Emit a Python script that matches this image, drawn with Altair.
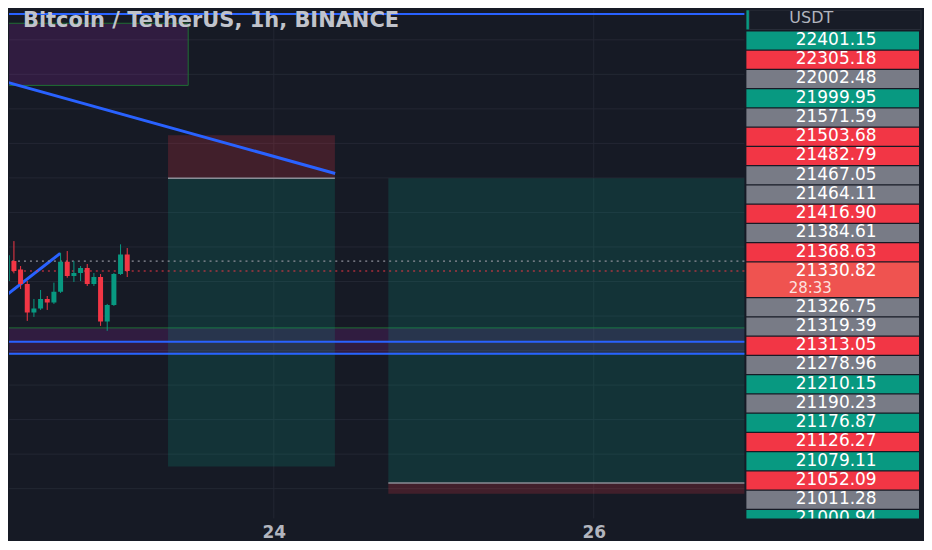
import altair as alt
import pandas as pd

# ---------------- data ----------------
# candles: hours since 22 Jan 00:00, 1h candles
candle_hours = [8, 9, 10, 11, 12, 13, 14, 15, 16, 17, 18, 19, 20, 21, 22, 23, 24, 25, 26]
opens = [21300.7, 21329.6, 21317.3, 21296.4, 21255.2, 21261.0, 21274.7, 21269.4, 21285.3, 21328.6,
         21307.9, 21312.3, 21319.5, 21296.4, 21306.5, 21242.2, 21266.0, 21310.8, 21339.0]
closes = [21337.9, 21315.2, 21296.4, 21255.2, 21261.0, 21274.7, 21269.4, 21285.3, 21328.6, 21307.9,
          21312.3, 21319.5, 21296.4, 21306.5, 21242.2, 21266.0, 21310.8, 21339.0, 21315.2]
highs = [21344.1, 21358.5, 21322.4, 21300.7, 21274.7, 21287.7, 21279.0, 21298.3, 21341.6, 21344.1,
         21329.6, 21322.4, 21325.3, 21312.3, 21310.8, 21267.5, 21312.3, 21353.8, 21348.4]
lows = [21296.4, 21311.8, 21289.2, 21242.9, 21248.7, 21258.8, 21258.8, 21267.5, 21283.4, 21305.5,
        21299.3, 21300.7, 21293.5, 21293.5, 21235.7, 21228.5, 21264.6, 21309.4, 21306.5]

# grid / axis
grid_prices = [21000, 21050, 21100, 21150, 21200, 21250, 21300, 21350, 21400, 21450,
               21500, 21550, 21600, 21650]
x_tick_hours = [48, 96]
x_tick_labels = ["24", "26"]

# drawings: rectangles
range_names = ["range_box", "support_band"]
range_h0 = [0, 0]
range_h1 = [35.15, 130]
range_p0 = [21584.0, 21195.2]
range_p1 = [21674.0, 21232.8]

pos_names = ["short_stop", "short_target", "long_target", "long_stop"]
pos_kind = ["stop", "target", "target", "stop"]
pos_h0 = [32.12, 32.12, 65.18, 65.18]
pos_h1 = [57.16, 57.16, 130, 130]
pos_p0 = [21449.6, 21031.9, 21008.1, 20992.5]
pos_p1 = [21511.7, 21449.6, 21449.6, 21008.1]

entry_h0 = [32.12, 65.18]
entry_h1 = [57.16, 130]
entry_p = [21449.6, 21008.1]

blue_levels = [21687.3, 21212.6, 21195.2]

trend_seg = ["a", "a", "b", "b"]
trend_h = [7.83, 57.20, 7.83, 15.95]
trend_p = [21589.0, 21456.4, 21280.1, 21340.75]

dotted_p = [21329.6, 21315.2]
dotted_kind = ["prev", "last"]

title_text = ["Bitcoin / TetherUS, 1h, BINANCE"]

# price-scale tags
tag_labels = ["22401.15", "22305.18", "22002.48", "21999.95", "21571.59", "21503.68", "21482.79",
              "21467.05", "21464.11", "21416.90", "21384.61", "21368.63", "21330.82", "21326.75",
              "21319.39", "21313.05", "21278.96", "21210.15", "21190.23", "21176.87", "21126.27",
              "21079.11", "21052.09", "21011.28", "21000.94"]
tag_kinds = ["up", "down", "neutral", "up", "neutral", "down", "down", "neutral", "neutral", "down",
             "neutral", "down", "last", "neutral", "neutral", "down", "neutral", "up", "neutral", "up",
             "down", "up", "down", "neutral", "up"]
tag_spans = [1, 1, 1, 1, 1, 1, 1, 1, 1, 1, 1, 1, 1.85, 1, 1, 1, 1, 1, 1, 1, 1, 1, 1, 1, 1]
countdown = ["28:33"]
currency = ["USDT"]

# ---------------- style ----------------
BG = "#161a25"
GRID = "#232733"
BLUE = "#2962ff"
UP = "#089981"
DOWN = "#f23645"
TXT = "#b2b5be"
TAG_COLORS = {"up": UP, "down": DOWN, "neutral": "#787b86", "last": "#ef5350"}
POS_COLORS = {"stop": "rgba(242,54,69,0.2)", "target": "rgba(8,153,129,0.2)"}
DOT_COLORS = {"prev": "#8d909a", "last": DOWN}

x_scale = alt.Scale(domain=[9.009, 117.859], nice=False, zero=False)
y_scale = alt.Scale(domain=[20956.8, 21693.8], nice=False, zero=False)

label_expr = "''"
for v, lab in zip(x_tick_hours, x_tick_labels):
    label_expr = f"datum.value == {v} ? '{lab}' : ({label_expr})"

xaxis = alt.Axis(values=x_tick_hours, labelExpr=label_expr, grid=False, ticks=False, tickSize=0,
                 domain=False, labelPadding=14, labelBaseline="middle", labelFontSize=17,
                 labelFont="DejaVu Sans", labelFontWeight="bold", labelColor=TXT, title=None)


def X(f):
    return alt.X(f, type="quantitative", scale=x_scale, axis=xaxis)


def Y(f):
    return alt.Y(f, type="quantitative", scale=y_scale, axis=None)


candles = pd.DataFrame({"h": candle_hours, "open": opens, "close": closes, "high": highs, "low": lows})
candle_color = alt.condition("datum.close >= datum.open", alt.value(UP), alt.value(DOWN))

grid_h = alt.Chart(pd.DataFrame({"p": grid_prices})).mark_rule(color=GRID, strokeWidth=1).encode(
    y=Y("p"))
grid_v = alt.Chart(pd.DataFrame({"h": x_tick_hours})).mark_rule(color=GRID, strokeWidth=1).encode(
    x=X("h"))

ranges = alt.Chart(pd.DataFrame({"name": range_names, "h0": range_h0, "h1": range_h1,
                                 "p0": range_p0, "p1": range_p1})).mark_rect(
    clip=True, fill="rgba(156,39,176,0.2)", stroke="#1f6f33", strokeWidth=1, opacity=1).encode(
    x=X("h0"), x2="h1", y=Y("p0"), y2="p1")

pos_df = pd.DataFrame({"name": pos_names, "kind": pos_kind, "h0": pos_h0, "h1": pos_h1,
                       "p0": pos_p0, "p1": pos_p1})
pos_layers = [
    alt.Chart(pos_df).transform_filter(f"datum.kind == '{k}'").mark_rect(
        clip=True, opacity=1, color=c).encode(x=X("h0"), x2="h1", y=Y("p0"), y2="p1")
    for k, c in POS_COLORS.items()
]

entries = alt.Chart(pd.DataFrame({"h0": entry_h0, "h1": entry_h1, "p": entry_p})).mark_rule(
    clip=True, color="#8a8d96", strokeWidth=1.5).encode(x=X("h0"), x2="h1", y=Y("p"))

blue_h = alt.Chart(pd.DataFrame({"p": blue_levels})).mark_rule(color=BLUE, strokeWidth=2).encode(
    y=Y("p"))

trends = alt.Chart(pd.DataFrame({"seg": trend_seg, "h": trend_h, "p": trend_p})).mark_line(
    clip=True, color=BLUE, strokeWidth=3).encode(x=X("h"), y=Y("p"), detail="seg:N")

dot_df = pd.DataFrame({"p": dotted_p, "k": dotted_kind})
dot_layers = [
    alt.Chart(dot_df).transform_filter(f"datum.k == '{k}'").mark_rule(
        strokeWidth=1.2, strokeDash=[2, 4], color=c).encode(y=Y("p"))
    for k, c in DOT_COLORS.items()
]

wicks = alt.Chart(candles).mark_rule(clip=True, strokeWidth=1).encode(
    x=X("h"), y=Y("low"), y2="high", color=candle_color)
bodies = alt.Chart(candles).mark_bar(clip=True, size=5, opacity=1).encode(
    x=X("h"), y=Y("open"), y2="close", color=candle_color)

title = alt.Chart(pd.DataFrame({"t": title_text})).mark_text(
    align="left", baseline="middle", font="DejaVu Sans", fontSize=21, fontWeight="bold",
    color="#c0c3cb").encode(x=alt.value(14), y=alt.value(11), text="t:N")

left = alt.layer(grid_h, grid_v, ranges, *pos_layers, entries, blue_h, trends, *dot_layers,
                 wicks, bodies, title).properties(width=737, height=510)

# ---------------- right price-scale panel ----------------
tags = pd.DataFrame({"label": tag_labels, "kind": tag_kinds, "span": tag_spans})
tags["start"] = tags["span"].cumsum() - tags["span"]
tags["y0"] = tags["start"] + 0.03
tags["y1"] = tags["start"] + tags["span"] - 0.03
tags["ty"] = tags["start"] + 0.47

slot_scale = alt.Scale(domain=[-1.1036, 25.321], reverse=True, nice=False, zero=False)


def S(f):
    return alt.Y(f, type="quantitative", scale=slot_scale, axis=None)


tag_rect_layers = [
    alt.Chart(tags).transform_filter(f"datum.kind == '{k}'").mark_rect(
        clip=True, opacity=1, color=c).encode(x=alt.value(1), x2=alt.value(174), y=S("y0"), y2="y1")
    for k, c in TAG_COLORS.items()
]
tag_text = alt.Chart(tags).mark_text(
    clip=True, align="center", baseline="middle", font="DejaVu Sans", fontSize=17,
    color="#ffffff").encode(x=alt.value(91), y=S("ty"), text="label:N")

cur_start = float(tags.loc[tags["kind"] == "last", "start"].iloc[0])
cd = alt.Chart(pd.DataFrame({"t": countdown, "ty": [cur_start + 1.34]})).mark_text(
    align="center", baseline="middle", font="DejaVu Sans", fontSize=15, color="#fde0df").encode(
    x=alt.value(65), y=S("ty"), text="t:N")

hdr = pd.DataFrame({"t": currency, "y0": [-1.075], "y1": [-0.07], "ty": [-0.43]})
hdr_strip = alt.Chart(hdr).mark_rect(clip=True, color=UP, opacity=1).encode(
    x=alt.value(1), x2=alt.value(4), y=S("y0"), y2="y1")
hdr_box = alt.Chart(hdr).mark_rect(clip=True, color="#181c27", stroke="#2a2e39", strokeWidth=1,
                                   opacity=1).encode(
    x=alt.value(4), x2=alt.value(176), y=S("y0"), y2="y1")
hdr_text = alt.Chart(hdr).mark_text(
    align="center", baseline="alphabetic", font="DejaVu Sans", fontSize=16, color=TXT).encode(
    x=alt.value(66), y=S("ty"), text="t:N")

right = alt.layer(hdr_strip, hdr_box, hdr_text, *tag_rect_layers, tag_text, cd).properties(
    width=179, height=510)

chart = alt.hconcat(left, right, spacing=0).properties(
    padding=0, background=BG).configure_view(strokeWidth=0)

chart.save("out.html", embed_options={"renderer": "svg", "actions": False})
